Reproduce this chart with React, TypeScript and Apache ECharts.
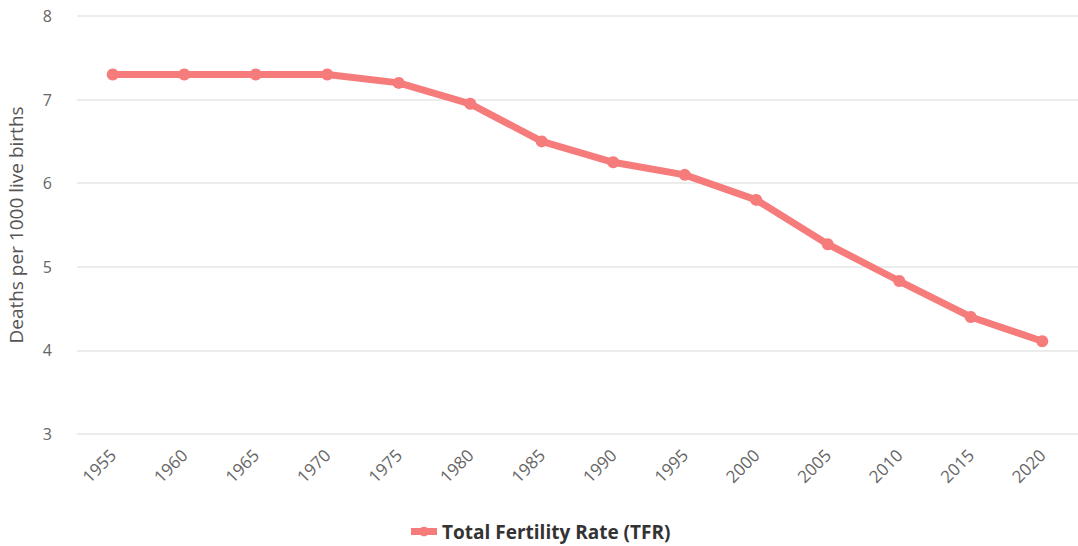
import React, { useEffect, useRef } from "react";
import * as echarts from "echarts";

const years = ["1955", "1960", "1965", "1970", "1975", "1980", "1985", "1990", "1995", "2000", "2005", "2010", "2015", "2020"];
const tfr = [7.3, 7.3, 7.3, 7.3, 7.2, 6.95, 6.5, 6.25, 6.1, 5.8, 5.27, 4.83, 4.4, 4.11];
const seriesName = "Total Fertility Rate (TFR)";
const yAxisTitle = "Deaths per 1000 live births";

export default function App() {
  const ref = useRef<HTMLDivElement>(null);
  useEffect(() => {
    if (!ref.current) return;
    const chart = echarts.init(ref.current, null, { renderer: "svg" });
    const font = "'Open Sans', 'Noto Sans', sans-serif";
    chart.setOption({
      animation: false,
      textStyle: { fontFamily: font },
      grid: { left: 77, right: 0, top: 16, bottom: 112, containLabel: false, outerBoundsMode: "none" },
      legend: {
        bottom: 0,
        left: "center",
        itemWidth: 26,
        itemHeight: 12,
        itemGap: 8,
        lineStyle: { width: 7 },
        textStyle: { fontSize: 19, fontWeight: "bold", color: "#333", fontFamily: font },
        data: [seriesName],
      },
      xAxis: {
        type: "category",
        data: years,
        boundaryGap: true,
        axisLine: { show: false },
        axisTick: { show: false },
        axisLabel: { rotate: 45, fontSize: 17, color: "#666", margin: 18, fontFamily: font },
      },
      yAxis: {
        type: "value",
        min: 3,
        max: 8,
        interval: 1,
        name: yAxisTitle,
        nameLocation: "middle",
        nameGap: 52,
        nameTextStyle: { fontSize: 19, color: "#555", fontFamily: font },
        axisLabel: { fontSize: 16, color: "#666", margin: 25, fontFamily: font },
        splitLine: { lineStyle: { color: "#e6e6e6", width: 1.5 } },
        axisLine: { show: false },
        axisTick: { show: false },
      },
      series: [
        {
          name: seriesName,
          type: "line",
          data: tfr,
          color: "#f67b7b",
          symbol: "circle",
          symbolSize: 12,
          lineStyle: { width: 7, color: "#f67b7b" },
          itemStyle: { color: "#f67b7b" },
        },
      ],
    });
    return () => chart.dispose();
  }, []);
  return (
    <div
      ref={ref}
      style={{ position: "fixed", left: 0, top: 0, width: 1078, height: 546, background: "#fff" }}
    />
  );
}
